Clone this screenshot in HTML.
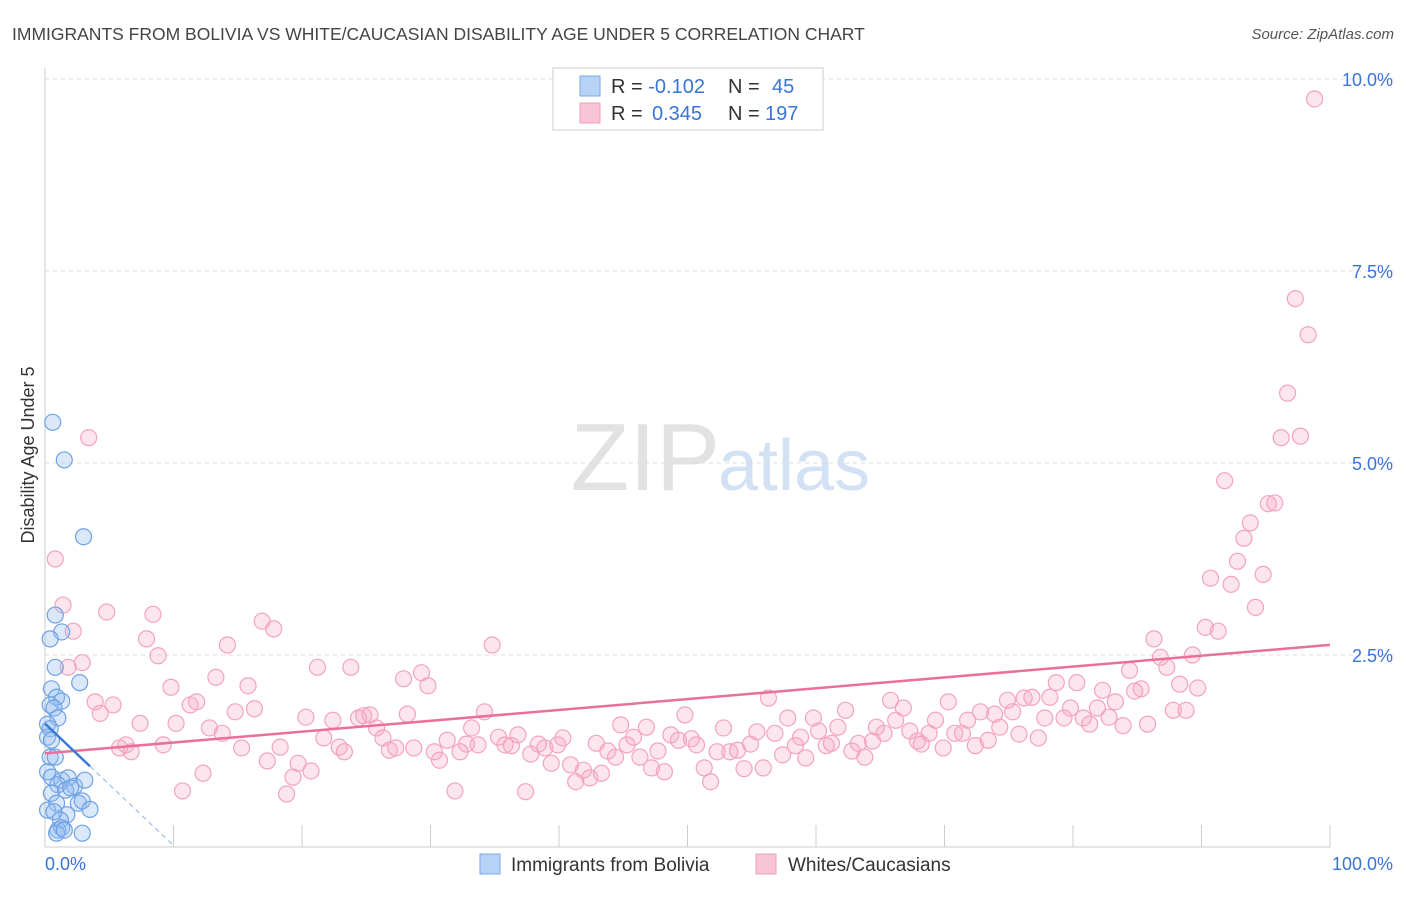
<!DOCTYPE html>
<html><head><meta charset="utf-8">
<style>
body{margin:0;background:#fff;font-family:"Liberation Sans",sans-serif;}
svg text{font-family:"Liberation Sans",sans-serif;}
</style></head>
<body>
<svg id="chart" width="1406" height="892" viewBox="0 0 1406 892">
<text x="12" y="40" font-size="17.5" fill="#444">IMMIGRANTS FROM BOLIVIA VS WHITE/CAUCASIAN DISABILITY AGE UNDER 5 CORRELATION CHART</text>
<text x="1394" y="39" font-size="15" fill="#555" font-style="italic" text-anchor="end">Source: ZipAtlas.com</text>
<text x="720" y="490" font-size="96" fill="#e2e2e2" text-anchor="end" font-family="Liberation Serif">ZIP</text>
<text x="718" y="490" font-size="72" fill="#d3e1f4">atlas</text>
<g id="grid"></g>
<g id="axes"></g>
<g id="pink"></g>
<g id="blue"></g>
<g id="trend"></g>
<text transform="translate(34,455) rotate(-90)" font-size="18" fill="#333" text-anchor="middle">Disability Age Under 5</text>
<g>
<rect x="553" y="68" width="270" height="62" fill="#fff" stroke="#ccc"/>
<rect x="580" y="76" width="20" height="20" fill="#b6d2f5" stroke="#7aaae6"/>
<rect x="580" y="103" width="20" height="20" fill="#f9c4d5" stroke="#f0a0ba"/>
<text x="611" y="93" font-size="20" fill="#333">R = <tspan fill="#3a74d6">-0.102</tspan><tspan x="728">N = </tspan><tspan x="772" fill="#3a74d6">45</tspan></text>
<text x="611" y="120" font-size="20" fill="#333">R = <tspan x="652" fill="#3a74d6">0.345</tspan><tspan x="728">N = </tspan><tspan x="765" fill="#3a74d6">197</tspan></text>
</g>
<g>
<rect x="480" y="854" width="20" height="20" fill="#b6d2f5" stroke="#7aaae6"/>
<text x="511" y="871" font-size="19" fill="#333">Immigrants from Bolivia</text>
<rect x="756" y="854" width="20" height="20" fill="#f9c4d5" stroke="#f0a0ba"/>
<text x="788" y="871" font-size="19" fill="#333">Whites/Caucasians</text>
</g>
</svg>
<script>
const yTicks=[2.5,5,7.5,10];
const yTickLabels=["2.5%","5.0%","7.5%","10.0%"];
const xTickLabels=["0.0%","100.0%"];
const pinkX=[0.8,1.4,3.4,2.2,2.9,1.8,3.9,4.3,5.3,4.8,5.8,6.3,6.7,7.4,7.9,8.4,8.8,9.2,9.8,10.2,10.7,11.3,11.8,12.3,12.8,13.3,13.8,14.2,14.8,15.3,15.8,16.3,16.9,17.3,17.8,18.3,18.8,19.3,19.7,20.3,20.7,21.2,21.7,22.4,22.9,23.3,23.8,24.4,24.8,25.3,25.8,26.3,26.8,27.3,27.9,28.2,28.7,29.3,29.8,30.3,30.7,31.3,31.9,32.3,32.8,33.2,33.7,34.2,34.8,35.3,35.8,36.3,36.8,37.4,37.8,38.4,38.9,39.4,39.9,40.3,40.9,41.3,41.9,42.4,42.9,43.3,43.8,44.4,44.8,45.3,45.8,46.3,46.8,47.2,47.7,48.2,48.7,49.3,49.8,50.3,50.7,51.3,51.8,52.3,52.8,53.3,53.9,54.4,54.9,55.4,55.9,56.3,56.8,57.4,57.8,58.4,58.8,59.2,59.8,60.2,60.8,61.2,61.7,62.3,62.8,63.3,63.8,64.4,64.7,65.3,65.8,66.2,66.8,67.3,67.9,68.2,68.8,69.3,69.9,70.3,70.8,71.4,71.8,72.4,72.8,73.4,73.9,74.3,74.9,75.3,75.8,76.2,76.8,77.3,77.8,78.2,78.7,79.3,79.8,80.3,80.8,81.3,81.9,82.3,82.8,83.3,83.9,84.4,84.8,85.3,85.8,86.3,86.8,87.3,87.8,88.3,88.8,89.3,89.7,90.3,90.7,91.3,91.8,92.3,92.8,93.3,93.8,94.2,94.8,95.2,95.7,96.2,96.7,97.3,97.7,98.3,98.8];
const pinkY=[3.75,3.15,5.33,2.81,2.40,2.34,1.89,1.74,1.85,3.06,1.29,1.33,1.24,1.61,2.71,3.03,2.49,1.33,2.08,1.61,0.73,1.85,1.89,0.96,1.55,2.21,1.48,2.63,1.76,1.29,2.10,1.80,2.94,1.12,2.84,1.30,0.69,0.91,1.09,1.69,0.99,2.34,1.42,1.65,1.30,1.24,2.34,1.68,1.71,1.72,1.55,1.42,1.26,1.29,2.19,1.73,1.29,2.27,2.10,1.24,1.13,1.39,0.73,1.24,1.34,1.55,1.33,1.76,2.63,1.43,1.33,1.32,1.46,0.72,1.21,1.34,1.29,1.09,1.33,1.42,1.07,0.85,1.00,0.90,1.35,0.96,1.25,1.17,1.59,1.33,1.43,1.17,1.56,1.03,1.25,0.98,1.46,1.39,1.72,1.41,1.33,1.03,0.85,1.24,1.55,1.24,1.26,1.02,1.34,1.50,1.03,1.94,1.48,1.20,1.68,1.32,1.43,1.16,1.68,1.51,1.32,1.35,1.56,1.78,1.25,1.35,1.17,1.38,1.56,1.48,1.91,1.65,1.81,1.51,1.38,1.34,1.48,1.65,1.29,1.89,1.48,1.48,1.65,1.32,1.76,1.39,1.73,1.56,1.91,1.76,1.47,1.94,1.95,1.42,1.68,1.95,2.14,1.68,1.81,2.14,1.68,1.60,1.81,2.04,1.69,1.89,1.58,2.30,2.03,2.06,1.60,2.71,2.47,2.34,1.78,2.12,1.78,2.50,2.07,2.86,3.50,2.81,4.77,3.42,3.72,4.02,4.22,3.12,3.55,4.47,4.48,5.33,5.91,7.14,5.35,6.67,9.74];
const blueX=[0.6,1.5,3.0,0.8,1.3,0.4,0.8,2.7,0.5,0.9,1.3,0.4,0.7,1.0,0.2,0.4,0.2,0.5,0.4,0.8,0.2,0.5,1.3,1.8,2.3,3.1,1.0,0.5,1.6,0.9,2.6,2.9,3.5,1.7,1.2,1.0,1.3,0.9,1.5,2.9,0.2,0.7,2.0];
const blueY=[5.53,5.04,4.04,3.02,2.80,2.71,2.34,2.14,2.06,1.95,1.90,1.85,1.81,1.68,1.60,1.54,1.43,1.39,1.17,1.17,0.98,0.91,0.87,0.90,0.79,0.87,0.81,0.70,0.74,0.57,0.57,0.60,0.49,0.42,0.35,0.22,0.25,0.18,0.22,0.18,0.48,0.46,0.77];
const X0=45,X1=1330,YB=847,YPER=76.8;
const xs=v=>X0+v/100*(X1-X0);
const ys=v=>YB-v*YPER;
const NS="http://www.w3.org/2000/svg";
function mk(tag,attrs,parent){const e=document.createElementNS(NS,tag);for(const k in attrs)e.setAttribute(k,attrs[k]);parent.appendChild(e);return e;}
const grid=document.getElementById('grid'),axes=document.getElementById('axes');
yTicks.forEach((t,i)=>{
  const l=mk('line',{x1:45,x2:1395,y1:ys(t),y2:ys(t),stroke:'#ddd','stroke-dasharray':'4,4'},grid);
  
  
  const tx=mk('text',{x:1393,y:ys(t)+7,'font-size':18,fill:'#3a74d6','text-anchor':'end'},axes);
  tx.textContent=yTickLabels[i];
  
  
});
const ya=mk('line',{x1:45,x2:45,y1:68,y2:847,stroke:'#ccc'},axes);


const xa=mk('line',{x1:45,x2:1330,y1:847,y2:847,stroke:'#ccc'},axes);


for(let i=0;i<=10;i++){
  const t=mk('line',{x1:xs(i*10),x2:xs(i*10),y1:825,y2:847,stroke:'#ccc'},axes);
  
  
}
[[0,'start',45],[100,'end',1393]].forEach((d,i)=>{
  const t=mk('text',{x:d[2],y:870,'font-size':18,fill:'#3a74d6','text-anchor':d[1]},axes);
  t.textContent=xTickLabels[i];
  
  
});
function dots(X,Y,g,fill,stroke,name){
  X.forEach((x,i)=>{
    const c=mk('circle',{cx:xs(x),cy:ys(Y[i]),r:8,fill:fill,stroke:stroke,'stroke-width':1.2},g);
    
    
  });
}
dots(pinkX,pinkY,document.getElementById('pink'),'rgba(246,168,196,0.3)','#f3a3be','white-caucasian-point');
dots(blueX,blueY,document.getElementById('blue'),'rgba(150,190,240,0.35)','#6fa2e2','bolivia-point');
function fit(X,Y){const n=X.length;let mx=0,my=0;X.forEach((x,i)=>{mx+=x;my+=Y[i];});mx/=n;my/=n;let sxy=0,sxx=0;X.forEach((x,i)=>{sxy+=(x-mx)*(Y[i]-my);sxx+=(x-mx)*(x-mx);});const b=sxy/sxx;return [my-b*mx,b];}
const tg=document.getElementById('trend');
const pf=fit(pinkX,pinkY);
const pl=mk('line',{x1:xs(0),y1:ys(pf[0]),x2:xs(100),y2:ys(pf[0]+pf[1]*100),stroke:'#e8709a','stroke-width':2.5},tg);


const bf=fit(blueX,blueY);
const bmax=Math.max(...blueX);
const bl=mk('line',{x1:xs(0),y1:ys(bf[0]),x2:xs(bmax),y2:ys(bf[0]+bf[1]*bmax),stroke:'#3a7ad8','stroke-width':2.5},tg);


const xz=bf[1]<0?Math.min(-bf[0]/bf[1],100):bmax;
const bd=mk('line',{x1:xs(bmax),y1:ys(bf[0]+bf[1]*bmax),x2:xs(xz),y2:ys(bf[0]+bf[1]*xz),stroke:'#9dbde8','stroke-width':1.2,'stroke-dasharray':'5,4'},tg);


</script>
</body></html>
